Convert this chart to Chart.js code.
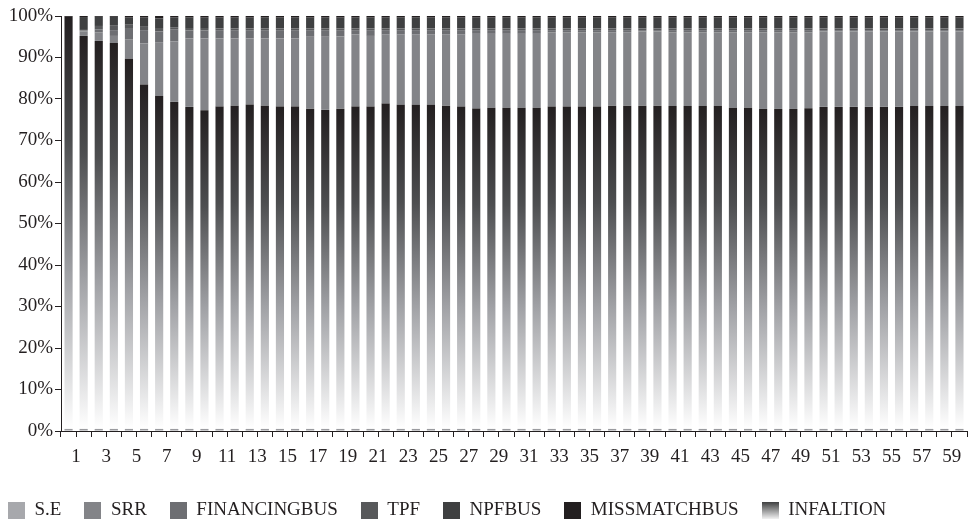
<!DOCTYPE html>
<html>
<head>
<meta charset="utf-8">
<script src="https://cdn.jsdelivr.net/npm/chart.js@4.4.0/dist/chart.umd.min.js"></script>
<style>
  html, body { margin: 0; padding: 0; background: #fff; overflow: hidden; }
  #wrap { width: 970px; height: 525px; }
</style>
</head>
<body>
<div id="wrap"><canvas id="share-chart"></canvas></div>
<script>
const periods = [
  "1", "2", "3", "4", "5", "6", "7", "8", "9", "10",
  "11", "12", "13", "14", "15", "16", "17", "18", "19", "20",
  "21", "22", "23", "24", "25", "26", "27", "28", "29", "30",
  "31", "32", "33", "34", "35", "36", "37", "38", "39", "40",
  "41", "42", "43", "44", "45", "46", "47", "48", "49", "50",
  "51", "52", "53", "54", "55", "56", "57", "58", "59", "60",
];

// shares, in %, stacked bottom to top
const seShare = [
  0.5, 0.5, 0.5, 0.5, 0.5, 0.5, 0.5, 0.5, 0.5, 0.5,
  0.5, 0.5, 0.5, 0.5, 0.5, 0.5, 0.5, 0.5, 0.5, 0.5,
  0.5, 0.5, 0.5, 0.5, 0.5, 0.5, 0.5, 0.5, 0.5, 0.5,
  0.5, 0.5, 0.5, 0.5, 0.5, 0.5, 0.5, 0.5, 0.5, 0.5,
  0.5, 0.5, 0.5, 0.5, 0.5, 0.5, 0.5, 0.5, 0.5, 0.5,
  0.5, 0.5, 0.5, 0.5, 0.5, 0.5, 0.5, 0.5, 0.5, 0.5,
];
const inflationShare = [
  99.3, 94.7, 93.5, 93.0, 89.2, 83.0, 80.2, 78.8, 77.6, 76.8,
  77.6, 77.8, 78.1, 77.8, 77.6, 77.6, 77.1, 76.8, 77.1, 77.6,
  77.7, 78.4, 78.1, 78.1, 78.1, 77.9, 77.7, 77.2, 77.4, 77.4,
  77.4, 77.4, 77.7, 77.7, 77.7, 77.7, 77.9, 77.9, 77.9, 77.9,
  77.8, 77.8, 77.8, 77.8, 77.4, 77.4, 77.1, 77.1, 77.1, 77.3,
  77.6, 77.6, 77.6, 77.6, 77.6, 77.6, 77.8, 77.8, 77.8, 77.8,
];
const srrShare = [
  0.0, 1.1, 2.0, 1.7, 4.6, 9.9, 13.0, 14.6, 16.5, 17.3,
  16.4, 16.2, 15.9, 16.2, 16.4, 16.4, 17.3, 17.6, 17.4, 17.4,
  17.0, 16.6, 16.9, 16.9, 16.9, 17.1, 17.3, 18.0, 17.8, 17.8,
  17.8, 17.8, 17.8, 17.8, 17.8, 17.8, 17.7, 17.7, 17.9, 17.9,
  17.7, 17.7, 17.7, 17.7, 18.1, 18.1, 18.4, 18.4, 18.4, 18.2,
  18.2, 18.2, 18.2, 18.2, 18.2, 18.2, 18.0, 18.0, 18.0, 18.0,
];
const financingShare = [
  0.0, 0.25, 0.8, 1.4, 2.6, 3.2, 2.6, 2.8, 1.9, 1.9,
  2.0, 2.0, 2.0, 2.0, 2.0, 2.0, 1.6, 1.6, 1.5, 1.0,
  1.4, 1.1, 1.1, 1.1, 1.1, 1.1, 1.1, 0.9, 0.9, 0.9,
  0.9, 0.9, 0.6, 0.6, 0.6, 0.6, 0.5, 0.5, 0.3, 0.3,
  0.6, 0.6, 0.6, 0.6, 0.6, 0.6, 0.6, 0.6, 0.6, 0.6,
  0.3, 0.3, 0.3, 0.3, 0.3, 0.3, 0.3, 0.3, 0.3, 0.3,
];
const tpfShare = [
  0.0, 0.1, 0.8, 1.2, 1.0, 0.8, 0.6, 0.6, 0.4, 0.4,
  0.4, 0.4, 0.4, 0.4, 0.4, 0.4, 0.4, 0.4, 0.4, 0.4,
  0.4, 0.4, 0.4, 0.4, 0.4, 0.4, 0.4, 0.4, 0.4, 0.4,
  0.4, 0.4, 0.4, 0.4, 0.4, 0.4, 0.4, 0.4, 0.4, 0.4,
  0.4, 0.4, 0.4, 0.4, 0.4, 0.4, 0.4, 0.4, 0.4, 0.4,
  0.4, 0.4, 0.4, 0.4, 0.4, 0.4, 0.4, 0.4, 0.4, 0.4,
];
const npfShare = [
  0.0, 3.1, 2.2, 2.0, 1.7, 2.2, 2.5, 2.4, 2.7, 2.7,
  2.6, 2.6, 2.6, 2.6, 2.6, 2.6, 2.6, 2.6, 2.6, 2.6,
  2.6, 2.6, 2.6, 2.6, 2.6, 2.6, 2.6, 2.6, 2.6, 2.6,
  2.6, 2.6, 2.6, 2.6, 2.6, 2.6, 2.6, 2.6, 2.6, 2.6,
  2.6, 2.6, 2.6, 2.6, 2.6, 2.6, 2.6, 2.6, 2.6, 2.6,
  2.6, 2.6, 2.6, 2.6, 2.6, 2.6, 2.6, 2.6, 2.6, 2.6,
];
const mismatchShare = [
  0.2, 0.25, 0.2, 0.2, 0.4, 0.4, 0.6, 0.3, 0.4, 0.4,
  0.4, 0.4, 0.4, 0.4, 0.4, 0.4, 0.4, 0.4, 0.4, 0.4,
  0.4, 0.4, 0.4, 0.4, 0.4, 0.4, 0.4, 0.4, 0.4, 0.4,
  0.4, 0.4, 0.4, 0.4, 0.4, 0.4, 0.4, 0.4, 0.4, 0.4,
  0.4, 0.4, 0.4, 0.4, 0.4, 0.4, 0.4, 0.4, 0.4, 0.4,
  0.4, 0.4, 0.4, 0.4, 0.4, 0.4, 0.4, 0.4, 0.4, 0.4,
];

const yTicks = [0, 10, 20, 30, 40, 50, 60, 70, 80, 90, 100];

const textColor = "#231f20";
const axisColor = "#231f20";
const serif = "'Liberation Serif', 'Times New Roman', serif";

// 100% stacked: scale each bar to its own total
const allSeries = [seShare, inflationShare, srrShare, financingShare, tpfShare, npfShare, mismatchShare];
const totals = periods.map((_, i) => allSeries.reduce((acc, s) => acc + s[i], 0));
const toPercent = (arr) => arr.map((v, i) => (v / totals[i]) * 100);

const sePct = toPercent(seShare);
const inflationPct = toPercent(inflationShare);

function inflationFill(context) {
  const chart = context.chart;
  if (context.type !== "data" || !chart.chartArea) {
    return "#3f4041";
  }
  const y = chart.scales.y;
  const i = context.dataIndex;
  const base = sePct[i];
  const top = base + inflationPct[i];
  const g = chart.ctx.createLinearGradient(0, y.getPixelForValue(top), 0, y.getPixelForValue(base));
  g.addColorStop(0, "#231f20");
  g.addColorStop(0.3, "#4d4e50");
  g.addColorStop(0.62, "#a0a1a5");
  g.addColorStop(1, "#ffffff");
  return g;
}

function swatch(color) {
  const c = document.createElement("canvas");
  c.width = 17;
  c.height = 17;
  const x = c.getContext("2d");
  if (color === "gradient") {
    const g = x.createLinearGradient(0, 0, 0, 17);
    g.addColorStop(0, "#3f4041");
    g.addColorStop(1, "#f2f2f2");
    x.fillStyle = g;
  } else {
    x.fillStyle = color;
  }
  x.fillRect(0, 0, 17, 17);
  return c;
}

const datasets = [
  { label: "S.E", data: sePct, backgroundColor: "#9a9b9f", legendSwatch: swatch("#a7a8ac") },
  { label: "INFALTION", data: inflationPct, backgroundColor: inflationFill, legendSwatch: swatch("gradient") },
  { label: "SRR", data: toPercent(srrShare), backgroundColor: "#838488", legendSwatch: swatch("#838488") },
  { label: "FINANCINGBUS", data: toPercent(financingShare), backgroundColor: "#6d6e72", legendSwatch: swatch("#6d6e72") },
  { label: "TPF", data: toPercent(tpfShare), backgroundColor: "#58595b", legendSwatch: swatch("#58595b") },
  { label: "NPFBUS", data: toPercent(npfShare), backgroundColor: "#3f4041", legendSwatch: swatch("#3f4041") },
  { label: "MISSMATCHBUS", data: toPercent(mismatchShare), backgroundColor: "#231f20", legendSwatch: swatch("#231f20") },
];
// legend reads in a different order than the stack
const legendOrder = [0, 2, 3, 4, 5, 6, 1];

Chart.defaults.font.family = serif;
Chart.defaults.color = textColor;

const ctx = document.getElementById("share-chart").getContext("2d");

const shareChart = new Chart(ctx, {
  type: "bar",
  data: {
    labels: periods,
    datasets: datasets.map((d) => ({
      label: d.label,
      data: d.data,
      backgroundColor: d.backgroundColor,
      borderWidth: 0,
      categoryPercentage: 1.0,
      barPercentage: 0.54,
    })),
  },
  options: {
    responsive: true,
    maintainAspectRatio: false,
    animation: false,
    layout: {
      padding: { left: -15, right: 3, top: 16, bottom: -5 },
    },
    plugins: {
      tooltip: { enabled: false },
      legend: {
        display: true,
        position: "bottom",
        align: "start",
        labels: {
          usePointStyle: true,
          boxWidth: 17,
          boxHeight: 17,
          padding: 23,
          color: textColor,
          font: { size: 19, family: serif },
          generateLabels: (chart) =>
            legendOrder.map((idx) => ({
              text: chart.data.datasets[idx].label,
              pointStyle: datasets[idx].legendSwatch,
              fillStyle: "#000",
              strokeStyle: "rgba(0,0,0,0)",
              lineWidth: 0,
              hidden: !chart.isDatasetVisible(idx),
              datasetIndex: idx,
              fontColor: textColor,
            })),
        },
      },
    },
    scales: {
      x: {
        stacked: true,
        offset: true,
        grid: {
          display: true,
          offset: true,
          drawOnChartArea: false,
          drawTicks: true,
          tickLength: 6,
          color: axisColor,
        },
        border: { display: true, color: axisColor, width: 1 },
        ticks: {
          autoSkip: false,
          maxRotation: 0,
          padding: 9,
          labelOffset: 7.5,
          color: textColor,
          font: { size: 19, family: serif },
          callback: (value, index) => (index % 2 === 0 ? periods[index] : ""),
        },
        afterFit: (scale) => {
          scale.height = scale.chart.height + 5 - 431 - scale.chart.legend.height;
        },
      },
      y: {
        stacked: true,
        min: 0,
        max: 100,
        grid: {
          display: true,
          drawOnChartArea: false,
          drawTicks: true,
          tickLength: 6,
          color: axisColor,
        },
        border: { display: true, color: axisColor, width: 1 },
        afterBuildTicks: (scale) => {
          scale.ticks = yTicks.map((v) => ({ value: v }));
        },
        ticks: {
          padding: 2,
          color: textColor,
          font: { size: 19, family: serif },
          callback: (value) => value + "%",
        },
        afterFit: (scale) => {
          scale.width = 61 + 15;
        },
      },
    },
  },
});
</script>
</body>
</html>
